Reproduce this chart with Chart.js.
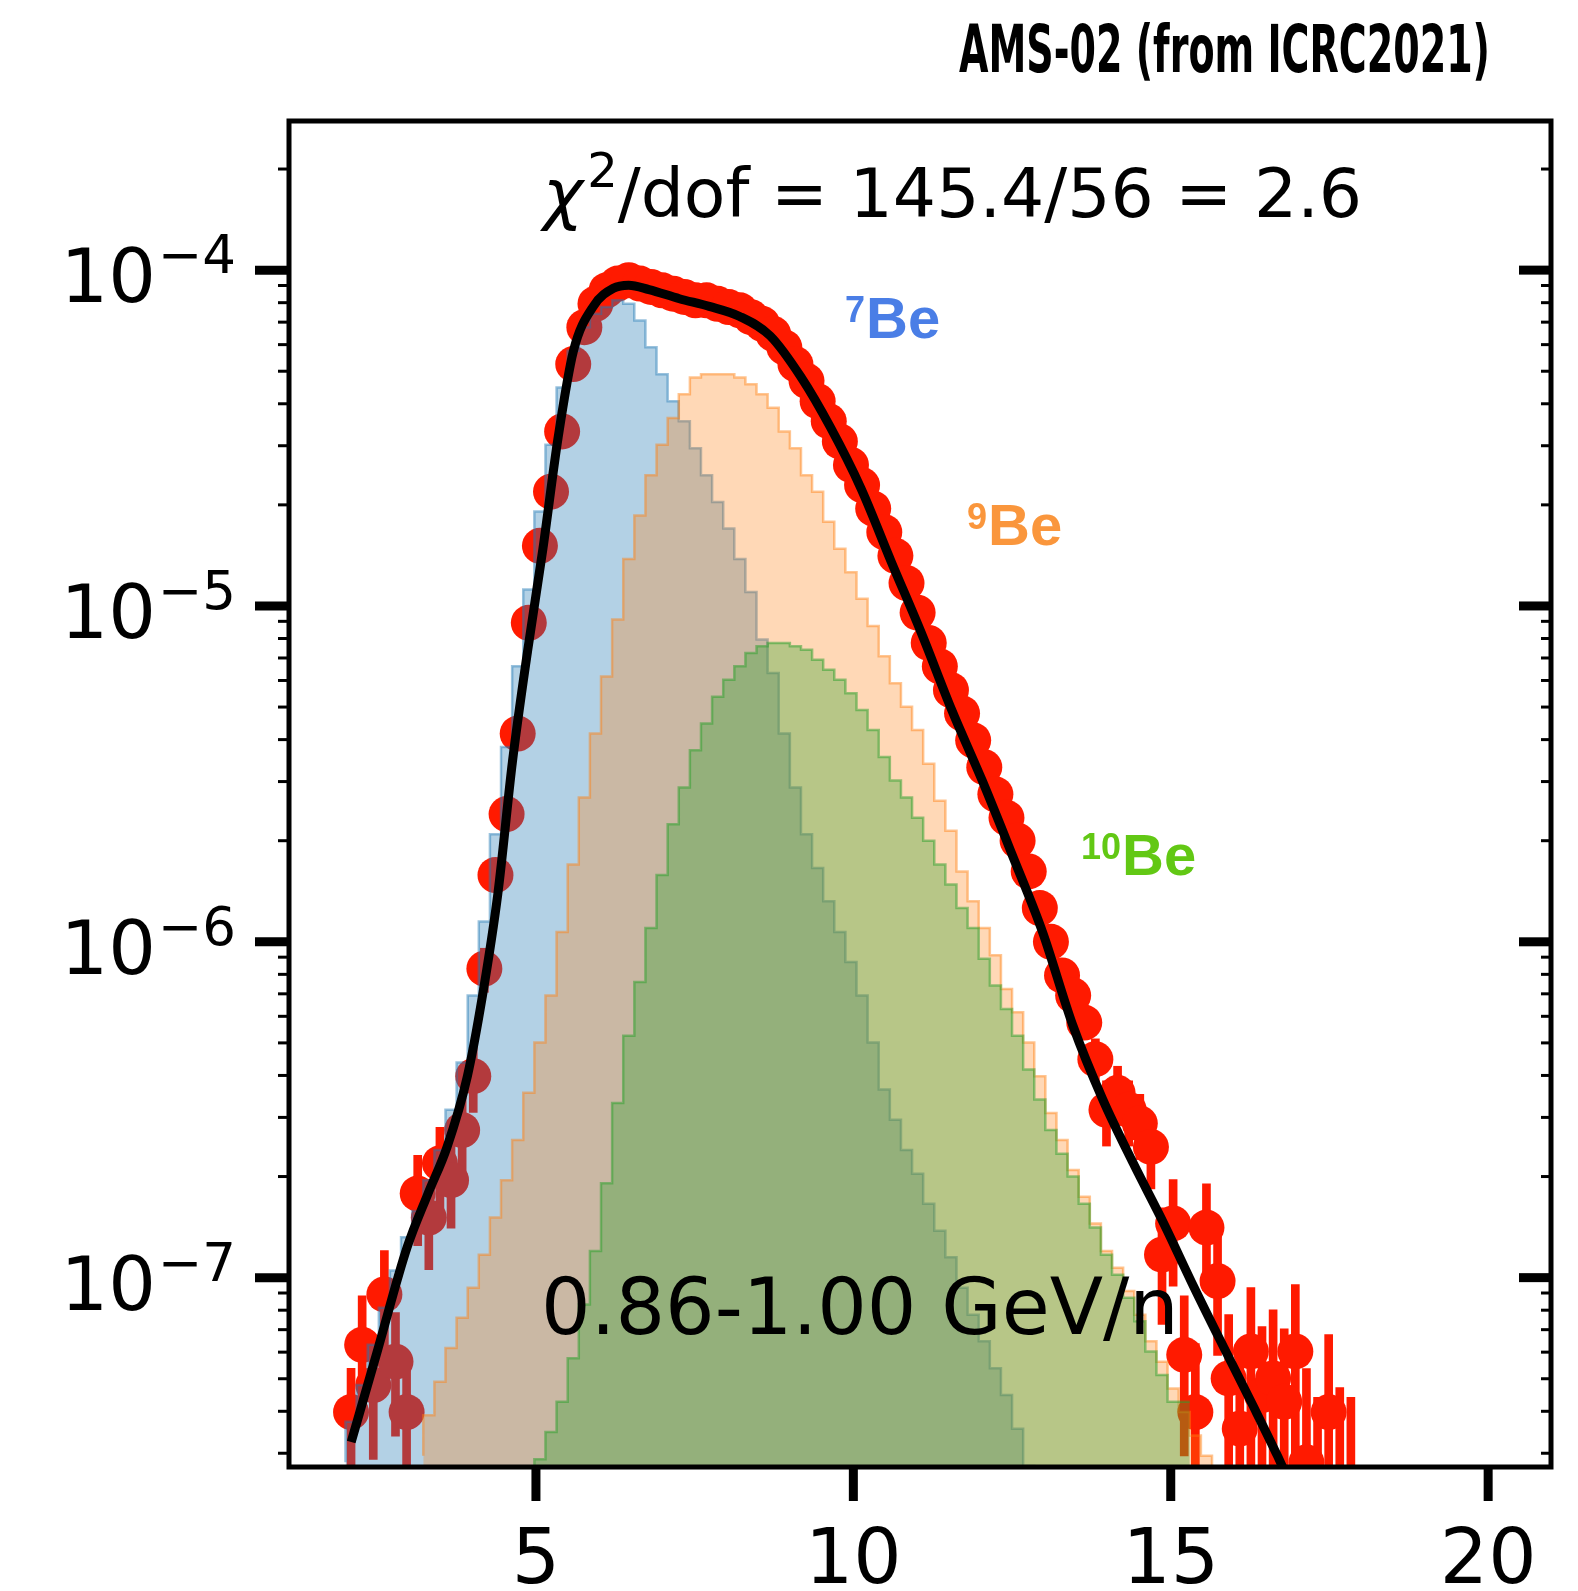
<!DOCTYPE html>
<html>
<head>
<meta charset="utf-8">
<script src="https://cdn.jsdelivr.net/npm/chart.js@4.4.0/dist/chart.umd.min.js"></script>
<style>
  html, body { margin: 0; padding: 0; background: #fff; }
  #wrap { width: 1578px; height: 1591px; position: relative; }
</style>
</head>
<body>
<div id="wrap"><canvas id="chart" width="1578" height="1591"></canvas></div>
<script>
// binning of the templates and the data (bin k covers binStart + k*binWidth ... +binWidth)
const binStart = 2.0;
const binWidth = 0.175;

// 7Be template, per bin
const be7 = [
  2.82e-8, 3.72e-8, 4.79e-8, 6.31e-8, 8.13e-8, 1.05e-7, 1.32e-7, 1.58e-7, 1.95e-7, 2.40e-7,
  3.16e-7, 4.37e-7, 6.92e-7, 1.15e-6, 2.09e-6, 3.80e-6, 6.61e-6, 1.12e-5, 1.91e-5, 3.02e-5,
  4.47e-5, 5.75e-5, 6.76e-5, 7.41e-5, 7.76e-5, 8.13e-5, 7.94e-5, 7.08e-5, 5.89e-5, 4.90e-5,
  4.07e-5, 3.55e-5, 2.95e-5, 2.45e-5, 2.04e-5, 1.70e-5, 1.38e-5, 1.10e-5, 7.94e-6, 6.31e-6,
  4.17e-6, 2.88e-6, 2.09e-6, 1.66e-6, 1.32e-6, 1.07e-6, 8.71e-7, 6.92e-7, 5.01e-7, 3.63e-7,
  2.95e-7, 2.40e-7, 2.04e-7, 1.66e-7, 1.38e-7, 1.15e-7, 9.33e-8, 7.76e-8, 6.46e-8, 5.37e-8,
  4.47e-8, 3.55e-8, 2.75e-8, 2.19e-8, 1.58e-8, 1.26e-8, 1.00e-8, null, null, null,
  null, null, null, null, null, null, null, null, null, null,
  null, null, null, null, null, null, null, null, null, null,
  null
];

// 9Be template
const be9 = [
  null, null, null, null, null, null, null, 2.95e-8, 3.89e-8, 4.90e-8,
  6.17e-8, 7.59e-8, 9.33e-8, 1.17e-7, 1.51e-7, 1.95e-7, 2.57e-7, 3.55e-7, 5.01e-7, 6.92e-7,
  1.07e-6, 1.70e-6, 2.69e-6, 4.17e-6, 6.17e-6, 9.12e-6, 1.38e-5, 1.86e-5, 2.45e-5, 3.02e-5,
  3.63e-5, 4.27e-5, 4.79e-5, 4.90e-5, 4.90e-5, 4.90e-5, 4.79e-5, 4.57e-5, 4.27e-5, 3.89e-5,
  3.31e-5, 2.95e-5, 2.45e-5, 2.19e-5, 1.78e-5, 1.48e-5, 1.26e-5, 1.05e-5, 8.71e-6, 7.08e-6,
  5.89e-6, 5.01e-6, 4.27e-6, 3.39e-6, 2.63e-6, 2.14e-6, 1.62e-6, 1.32e-6, 1.10e-6, 9.12e-7,
  7.24e-7, 6.17e-7, 5.01e-7, 3.98e-7, 3.09e-7, 2.57e-7, 2.09e-7, 1.74e-7, 1.45e-7, 1.20e-7,
  1.07e-7, 9.12e-8, 7.76e-8, 6.46e-8, 5.62e-8, 4.68e-8, 3.98e-8, 3.39e-8, 2.95e-8, 2.51e-8,
  null, null, null, null, null, null, null, null, null, null,
  null
];

// 10Be template
const be10 = [
  null, null, null, null, null, null, null, null, null, null,
  null, null, null, null, null, null, null, 2.51e-8, 2.88e-8, 3.47e-8,
  4.27e-8, 5.75e-8, 8.32e-8, 1.20e-7, 1.91e-7, 3.31e-7, 5.25e-7, 7.59e-7, 1.10e-6, 1.58e-6,
  2.24e-6, 2.88e-6, 3.72e-6, 4.47e-6, 5.37e-6, 6.03e-6, 6.61e-6, 7.24e-6, 7.59e-6, 7.76e-6,
  7.76e-6, 7.59e-6, 7.41e-6, 6.92e-6, 6.46e-6, 6.03e-6, 5.50e-6, 4.90e-6, 4.27e-6, 3.55e-6,
  3.02e-6, 2.69e-6, 2.34e-6, 2.00e-6, 1.70e-6, 1.48e-6, 1.26e-6, 1.10e-6, 8.91e-7, 7.41e-7,
  6.31e-7, 5.25e-7, 4.17e-7, 3.39e-7, 2.75e-7, 2.34e-7, 2.00e-7, 1.66e-7, 1.41e-7, 1.17e-7,
  1.02e-7, 8.71e-8, 7.41e-8, 6.03e-8, 5.13e-8, 4.27e-8, null, null, null, null,
  null, null, null, null, null, null, null, null, null, null,
  null
];

// AMS-02 data, one point per bin centre
const dataY = [
  3.98e-8, 6.31e-8, 4.79e-8, 8.91e-8, 5.62e-8, 3.98e-8, 1.78e-7, 1.51e-7, 2.19e-7, 1.95e-7,
  2.75e-7, 3.98e-7, 8.32e-7, 1.58e-6, 2.40e-6, 4.17e-6, 8.91e-6, 1.51e-5, 2.19e-5, 3.31e-5,
  5.25e-5, 6.76e-5, 7.94e-5, 8.71e-5, 9.12e-5, 9.33e-5, 9.12e-5, 8.91e-5, 8.71e-5, 8.51e-5,
  8.32e-5, 8.13e-5, 8.13e-5, 7.94e-5, 7.76e-5, 7.59e-5, 7.24e-5, 6.92e-5, 6.46e-5, 5.89e-5,
  5.25e-5, 4.68e-5, 4.07e-5, 3.55e-5, 3.09e-5, 2.63e-5, 2.29e-5, 1.95e-5, 1.66e-5, 1.41e-5,
  1.17e-5, 9.55e-6, 7.76e-6, 6.61e-6, 5.62e-6, 4.79e-6, 3.98e-6, 3.31e-6, 2.75e-6, 2.34e-6,
  2.00e-6, 1.62e-6, 1.26e-6, 1.00e-6, 7.94e-7, 6.92e-7, 5.75e-7, 4.47e-7, 3.16e-7, 3.55e-7,
  3.16e-7, 2.88e-7, 2.45e-7, 1.17e-7, 1.45e-7, 5.89e-8, 3.98e-8, 1.41e-7, 9.77e-8, 5.01e-8,
  3.55e-8, 6.03e-8, 4.47e-8, 5.01e-8, 4.27e-8, 6.03e-8, 2.82e-8, 2.00e-8, 3.98e-8, 2.24e-8,
  2.00e-8
];

// relative size of the error bar on each data point
const dataErrFrac = [
  0.35, 0.40, 0.40, 0.35, 0.40, 0.45, 0.30, 0.30, 0.28, 0.28,
  0.25, 0.22, 0.15, 0.10, 0.08, 0.06, 0.05, 0.03, 0.03, 0.03,
  0.03, 0.03, 0.03, 0.03, 0.03, 0.03, 0.03, 0.03, 0.03, 0.03,
  0.03, 0.03, 0.03, 0.03, 0.03, 0.03, 0.03, 0.03, 0.03, 0.03,
  0.03, 0.03, 0.03, 0.03, 0.03, 0.03, 0.03, 0.03, 0.03, 0.03,
  0.03, 0.03, 0.03, 0.03, 0.03, 0.03, 0.03, 0.03, 0.03, 0.03,
  0.03, 0.05, 0.06, 0.06, 0.07, 0.08, 0.10, 0.15, 0.22, 0.20,
  0.22, 0.22, 0.25, 0.38, 0.35, 0.50, 0.60, 0.35, 0.40, 0.55,
  0.65, 0.55, 0.60, 0.60, 0.65, 0.58, 0.90, 1.20, 0.70, 1.10,
  1.20
];

// total fit (black curve)
const fitX = [2.09, 2.50, 2.97, 3.30, 3.60, 3.92, 4.16, 4.40, 4.63, 4.87,
  5.11, 5.35, 5.59, 5.91, 6.22, 6.46, 6.78, 7.26, 7.73, 8.21,
  8.69, 9.17, 9.64, 10.12, 10.60, 11.07, 11.55, 12.03, 12.50, 12.98,
  13.46, 13.93, 14.41, 14.89, 15.37, 15.84, 16.32, 16.68, 16.80];
const fitY = [3.24e-8, 6.03e-8, 1.23e-7, 1.78e-7, 2.45e-7, 3.98e-7, 6.95e-7, 1.39e-6, 3.44e-6, 7.38e-6,
  1.48e-5, 3.18e-5, 5.74e-5, 7.83e-5, 8.83e-5, 9.02e-5, 8.75e-5, 8.22e-5, 7.80e-5, 7.28e-5,
  6.37e-5, 4.82e-5, 3.40e-5, 2.24e-5, 1.35e-5, 8.32e-6, 4.90e-6, 3.02e-6, 1.82e-6, 1.07e-6,
  5.62e-7, 3.39e-7, 2.19e-7, 1.45e-7, 9.33e-8, 6.17e-8, 4.07e-8, 2.95e-8, 2.63e-8];

const xTicks = [5, 10, 15, 20];
const yTicks = [1e-7, 1e-6, 1e-5, 1e-4];
const yTickExp = ['\u22127', '\u22126', '\u22125', '\u22124'];

const RED = '#ff1a00';

// step outline of a histogram: one point per left bin edge, plus the last right edge
function histPoints(vals) {
  const pts = [];
  let last = -1;
  vals.forEach((v, i) => {
    if (v === null) return;
    pts.push({ x: binStart + i * binWidth, y: v });
    last = i;
  });
  pts.push({ x: binStart + (last + 1) * binWidth, y: vals[last] });
  return pts;
}

const dataPts = dataY.map((v, i) => ({ x: binStart + (i + 0.5) * binWidth, y: v }));
const errBars = dataY.map((v, i) => {
  const e = v * dataErrFrac[i];
  return { x: binStart + (i + 0.5) * binWidth, y: [Math.max(v - e, 1e-10), v + e] };
});
const fitPts = fitX.map((x, i) => ({ x: x, y: fitY[i] }));

function seg(ctx, x1, y1, x2, y2) {
  ctx.beginPath();
  ctx.moveTo(x1, y1);
  ctx.lineTo(x2, y2);
  ctx.stroke();
}

// axes frame, tick marks and all the text
const decor = {
  id: 'decor',
  afterDatasetsDraw(chart) {
    const { ctx, chartArea: a, scales } = chart;
    const xs = scales.x, ys = scales.y;
    ctx.save();
    ctx.strokeStyle = '#000';
    ctx.fillStyle = '#000';
    ctx.lineCap = 'butt';

    // minor log ticks: outside on the left, inside on the right
    ctx.lineWidth = 3;
    for (let e = -8; e <= -4; e++) {
      for (let m = 2; m <= 9; m++) {
        const v = m * Math.pow(10, e);
        if (v <= ys.min || v >= ys.max) continue;
        const py = ys.getPixelForValue(v);
        seg(ctx, a.left - 11, py, a.left, py);
        seg(ctx, a.right - 10, py, a.right, py);
      }
    }
    // major ticks
    ctx.lineWidth = 9;
    yTicks.forEach(v => {
      const py = ys.getPixelForValue(v);
      seg(ctx, a.left - 34, py, a.left, py);
      seg(ctx, a.right - 32, py, a.right, py);
    });
    xTicks.forEach(v => {
      const px = xs.getPixelForValue(v);
      seg(ctx, px, a.bottom, px, a.bottom + 34);
    });

    // frame
    ctx.lineWidth = 5;
    ctx.strokeRect(a.left, a.top, a.right - a.left, a.bottom - a.top);

    // y tick labels 10^-n
    ctx.textBaseline = 'alphabetic';
    yTicks.forEach((v, i) => {
      const py = ys.getPixelForValue(v);
      ctx.font = '53px "DejaVu Sans"';
      const supW = ctx.measureText(yTickExp[i]).width;
      ctx.textAlign = 'right';
      ctx.fillText(yTickExp[i], 236, py + 3);
      ctx.font = '75px "DejaVu Sans"';
      ctx.fillText('10', 236 - supW - 2, py + 32);
    });

    // x tick labels
    ctx.font = '76px "DejaVu Sans"';
    ctx.textAlign = 'center';
    xTicks.forEach(v => {
      ctx.fillText(String(v), xs.getPixelForValue(v), a.bottom + 116);
    });

    // chi2 annotation
    ctx.textAlign = 'left';
    let cx = 543;
    ctx.font = 'italic 68px "DejaVu Sans"';
    ctx.fillText('\u03c7', cx, 217);
    cx += ctx.measureText('\u03c7').width + 4;
    ctx.font = '48px "DejaVu Sans"';
    ctx.fillText('2', cx, 187);
    cx += ctx.measureText('2').width;
    ctx.font = '68px "DejaVu Sans"';
    ctx.fillText('/dof = 145.4/56 = 2.6', cx, 217);

    // energy bin
    ctx.font = '78px "DejaVu Sans"';
    ctx.fillText('0.86-1.00 GeV/n', 541, 1334);

    // isotope labels
    const iso = [
      { sup: '7', x: 845, y: 338, color: '#4a7ee6' },
      { sup: '9', x: 967, y: 545, color: '#fa963c' },
      { sup: '10', x: 1081, y: 875, color: '#62c814' }
    ];
    iso.forEach(l => {
      ctx.fillStyle = l.color;
      ctx.font = 'bold 36px "Liberation Sans", Arial, sans-serif';
      ctx.fillText(l.sup, l.x, l.y - 16);
      const w = ctx.measureText(l.sup).width;
      ctx.font = 'bold 58px "Liberation Sans", Arial, sans-serif';
      ctx.fillText('Be', l.x + w + 1, l.y);
    });

    // title, squeezed into a condensed look
    const title = 'AMS-02 (from ICRC2021)';
    ctx.fillStyle = '#000';
    ctx.font = 'bold 66px "DejaVu Sans Condensed", "DejaVu Sans", sans-serif';
    const tw = ctx.measureText(title).width;
    ctx.translate(959, 72);
    ctx.scale(531 / tw, 1);
    ctx.fillText(title, 0, 0);

    ctx.restore();
  }
};

new Chart(document.getElementById('chart'), {
  type: 'line',
  data: {
    datasets: [
      {
        type: 'bar',
        label: 'errors',
        data: errBars,
        backgroundColor: RED,
        borderWidth: 0,
        barThickness: 8,
        order: 6,
        clip: 0
      },
      {
        type: 'scatter',
        label: 'AMS-02',
        data: dataPts,
        pointRadius: 18,
        pointBackgroundColor: RED,
        pointBorderWidth: 0,
        pointBorderColor: RED,
        showLine: false,
        order: 5,
        clip: 0
      },
      {
        label: '7Be',
        data: histPoints(be7),
        stepped: 'after',
        fill: 'start',
        backgroundColor: 'rgba(31,119,180,0.34)',
        borderColor: 'rgba(31,119,180,0.45)',
        borderWidth: 2.5,
        pointRadius: 0,
        order: 4,
        clip: 0
      },
      {
        label: '9Be',
        data: histPoints(be9),
        stepped: 'after',
        fill: 'start',
        backgroundColor: 'rgba(255,127,14,0.30)',
        borderColor: 'rgba(255,127,14,0.45)',
        borderWidth: 2.5,
        pointRadius: 0,
        order: 3,
        clip: 0
      },
      {
        label: '10Be',
        data: histPoints(be10),
        stepped: 'after',
        fill: 'start',
        backgroundColor: 'rgba(44,160,44,0.34)',
        borderColor: 'rgba(44,160,44,0.5)',
        borderWidth: 2.5,
        pointRadius: 0,
        order: 2,
        clip: 0
      },
      {
        label: 'fit',
        data: fitPts,
        borderColor: '#000',
        borderWidth: 9,
        pointRadius: 0,
        fill: false,
        cubicInterpolationMode: 'monotone',
        order: 1,
        clip: 0
      }
    ]
  },
  options: {
    responsive: false,
    devicePixelRatio: 1,
    animation: false,
    events: [],
    layout: { padding: { left: 0, right: 27, top: 121, bottom: 0 } },
    plugins: {
      legend: { display: false },
      tooltip: { enabled: false },
      title: { display: false }
    },
    scales: {
      x: {
        type: 'linear',
        min: 1.11,
        max: 20.99,
        offset: false,
        grid: { display: false, offset: false },
        border: { display: false },
        ticks: { display: false },
        afterBuildTicks: s => { s.ticks = xTicks.map(v => ({ value: v })); },
        afterFit: s => { s.height = 124; }
      },
      y: {
        type: 'logarithmic',
        min: 2.73e-8,
        max: 2.78e-4,
        grid: { display: false },
        border: { display: false },
        ticks: { display: false },
        afterBuildTicks: s => { s.ticks = yTicks.map(v => ({ value: v })); },
        afterFit: s => { s.width = 289; }
      }
    }
  },
  plugins: [decor]
});
</script>
</body>
</html>
